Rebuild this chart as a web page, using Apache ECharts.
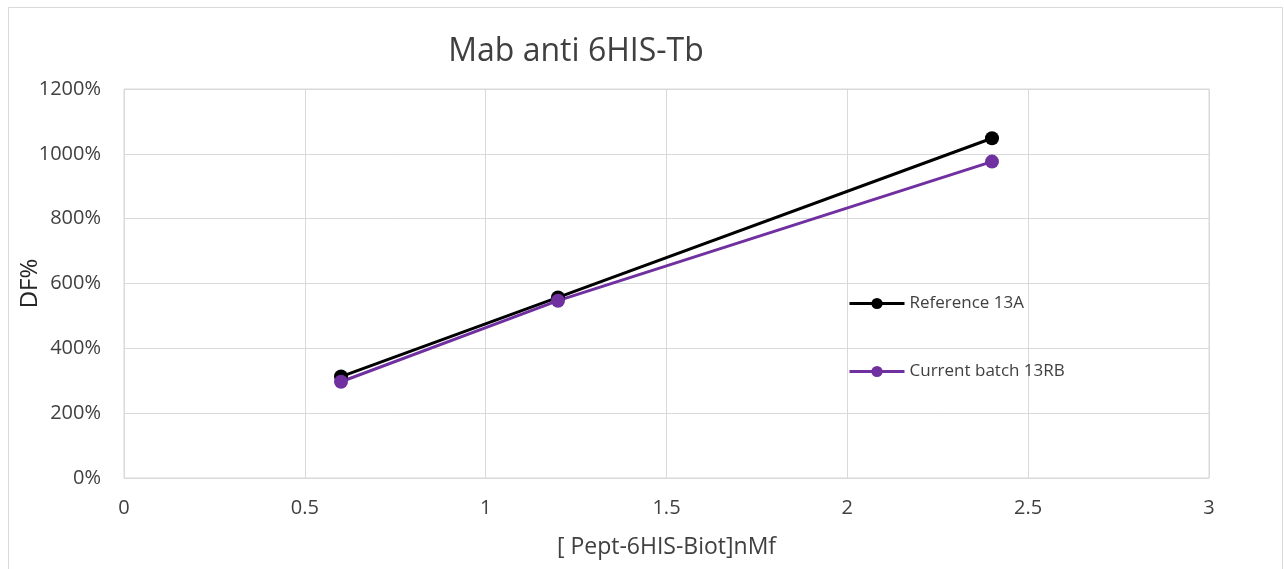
<!DOCTYPE html>
<html><head><meta charset="utf-8">
<script src="https://cdn.jsdelivr.net/npm/echarts@6/dist/echarts.min.js"></script>
<style>html,body{margin:0;padding:0;background:#fff}#c{width:1284px;height:569px}</style>
</head><body><div id="c"></div>
<script>
const xValues = [0.6, 1.2, 2.4];
const referenceValues = [3.13, 5.57, 10.48];
const currentValues = [2.97, 5.47, 9.76];
const seriesNames = ['Reference 13A', 'Current batch 13RB'];
const font = "'Open Sans', 'Liberation Sans', sans-serif";
const chart = echarts.init(document.getElementById('c'));
chart.setOption({
  animation: false,
  backgroundColor: '#fff',
  title: { text: 'Mab anti 6HIS-Tb', left: 571, top: 31, textAlign: 'center',
    textStyle: { fontFamily: font, fontSize: 32, fontWeight: 'normal', color: '#404040' } },
  graphic: [{ type: 'rect', shape: { x: 8.5, y: 7.5, width: 1274, height: 580 },
    style: { fill: 'none', stroke: '#d9d9d9', lineWidth: 1 }, silent: true }],
  legend: { orient: 'vertical', left: 843, top: 290, itemGap: 51, itemWidth: 55, itemHeight: 14,
    data: seriesNames, lineStyle: { width: 3 },
    textStyle: { fontFamily: font, fontSize: 17, color: '#404040' } },
  grid: { left: 124, right: 75, top: 89, bottom: 91, show: true, borderColor: '#d9d9d9', borderWidth: 1,
    outerBoundsMode: 'none', containLabel: false },
  xAxis: { type: 'value', min: 0, max: 3, interval: 0.5,
    name: '[ Pept-6HIS-Biot]nMf', nameLocation: 'middle', nameGap: 58, nameMoveOverlap: false,
    nameTextStyle: { fontFamily: font, fontSize: 23, color: '#404040' },
    axisLine: { show: false }, axisTick: { show: false },
    splitLine: { lineStyle: { color: '#d9d9d9', width: 1 } },
    axisLabel: { fontFamily: font, fontSize: 20, color: '#404040', margin: 20 } },
  yAxis: { type: 'value', min: 0, max: 12, interval: 2,
    name: 'DF%', nameLocation: 'middle', nameGap: 82, nameMoveOverlap: false,
    nameTextStyle: { fontFamily: font, fontSize: 24, color: '#262626' },
    axisLine: { show: false }, axisTick: { show: false },
    splitLine: { lineStyle: { color: '#d9d9d9', width: 1 } },
    axisLabel: { fontFamily: font, fontSize: 20, color: '#404040', margin: 23,
      formatter: v => Math.round(v * 100) + '%' } },
  series: [
    { name: seriesNames[0], type: 'line', data: xValues.map((x, i) => [x, referenceValues[i]]),
      symbol: 'circle', symbolSize: 14, lineStyle: { color: '#000', width: 3 }, itemStyle: { color: '#000' } },
    { name: seriesNames[1], type: 'line', data: xValues.map((x, i) => [x, currentValues[i]]),
      symbol: 'circle', symbolSize: 14, lineStyle: { color: '#7030a0', width: 3 }, itemStyle: { color: '#7030a0' } }
  ]
});
</script></body></html>
